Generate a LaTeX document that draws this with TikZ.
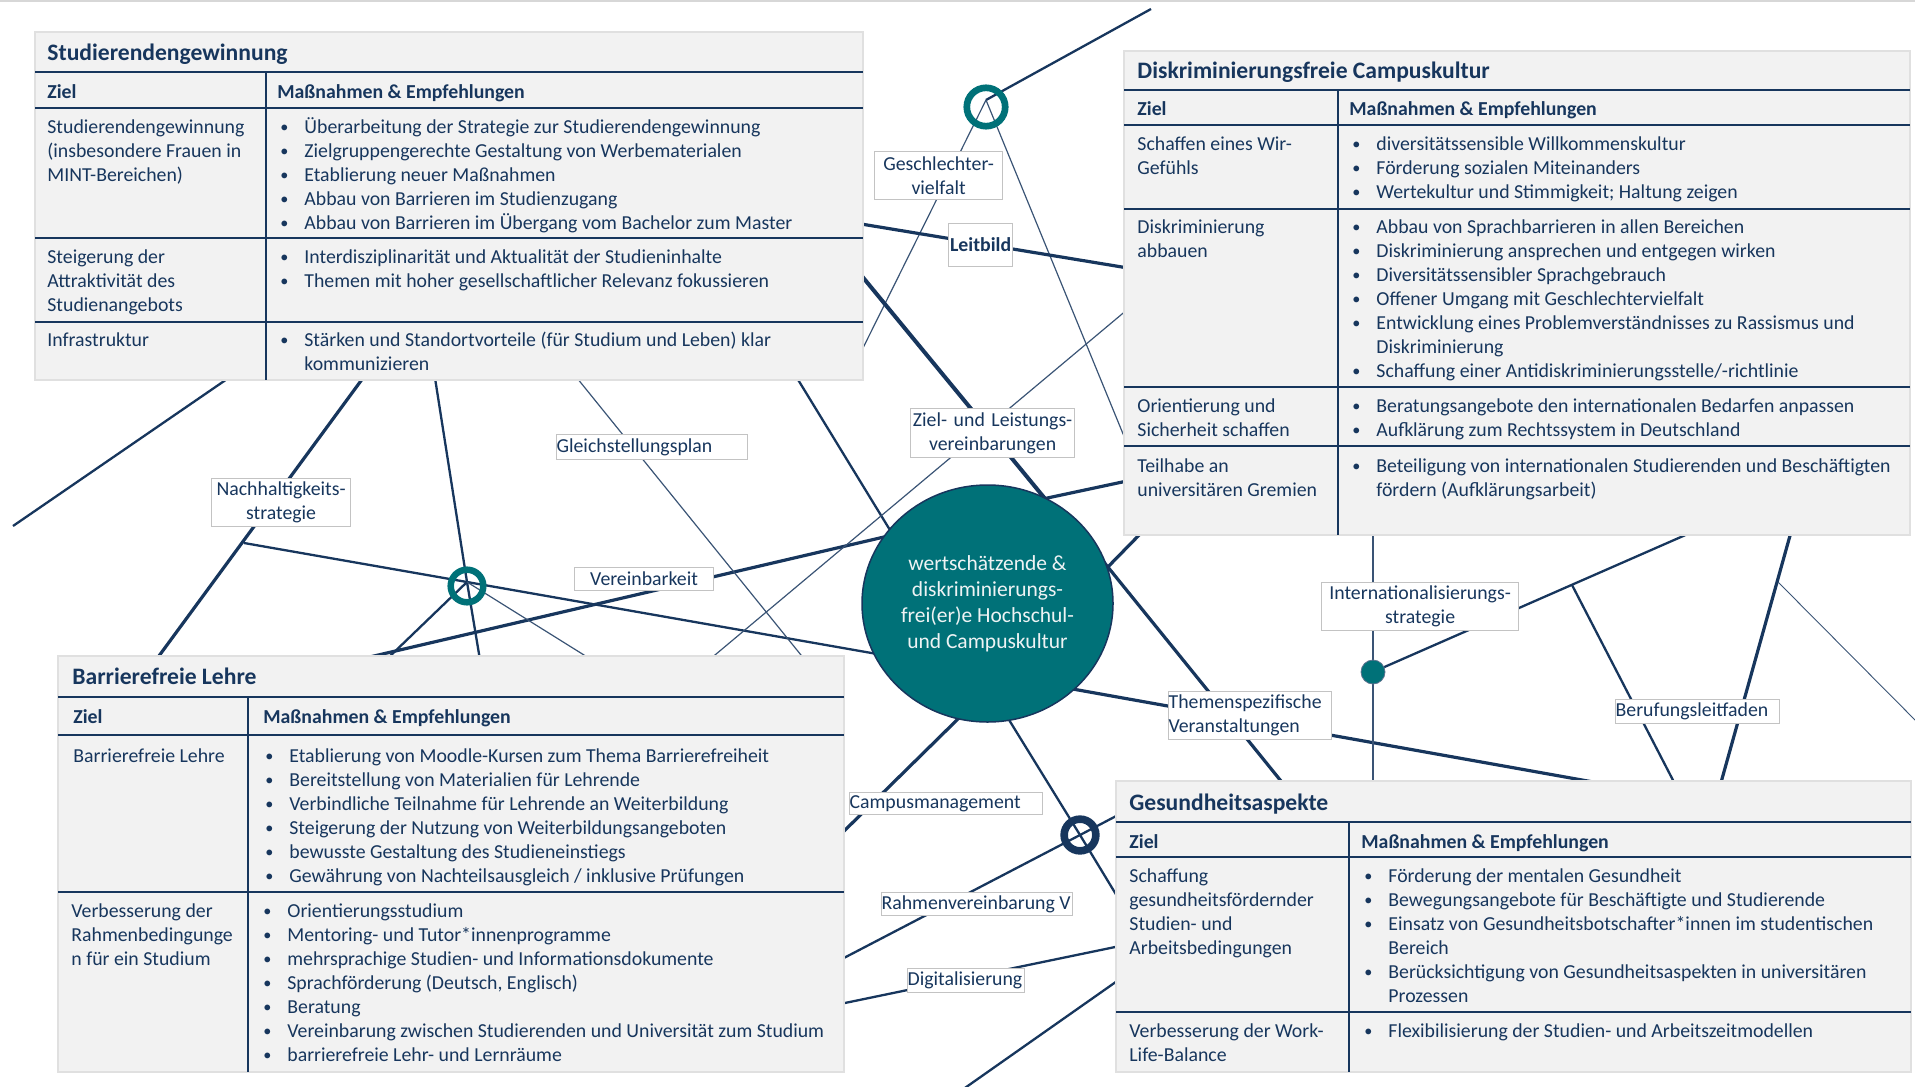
\documentclass[tikz,border=0pt]{standalone}
\usepackage{fontspec}
\usepackage{graphicx}
\setmainfont{Carlito}
\usetikzlibrary{shapes.geometric}
\definecolor{navy}{RGB}{23,54,93}
\definecolor{hubteal}{RGB}{0,113,120}
\definecolor{panelbg}{RGB}{242,242,242}
\definecolor{panelrim}{RGB}{224,224,224}
\definecolor{lblrim}{RGB}{195,195,195}
\definecolor{hubtext}{RGB}{238,243,244}
\definecolor{toprule}{RGB}{215,215,215}
\newcommand\bodyf{\fontsize{9.9pt}{12pt}\selectfont}
\newcommand\titlef{\fontsize{11.8pt}{14pt}\selectfont\bfseries}
\newcommand\hubf{\fontsize{10.75pt}{13pt}\selectfont}
\newcommand\bi{\makebox[12pt][l]{\raisebox{0.5pt}{\scalebox{0.82}{\textbullet}}}}
\newcommand\bc{\hspace*{12pt}}
\tikzset{
  lnthin/.style={draw=navy!85, line width=0.6pt},
  lnmed/.style={draw=navy, line width=1.15pt},
  lnthick/.style={draw=navy, line width=1.6pt},
  lnvthick/.style={draw=navy, line width=2pt},
  panel/.style={fill=panelbg, draw=panelrim, line width=0.8pt},
  rowrule/.style={draw=navy, line width=1.1pt},
  colrule/.style={draw=navy, line width=0.8pt},
  cell/.style={inner sep=0pt, anchor=base west, font=\bodyf, text=navy},
  ttl/.style={inner sep=0pt, anchor=base west, font=\titlef, text=navy},
  hdr/.style={inner sep=0pt, anchor=base west, font=\bodyf\bfseries, text=navy},
  lbl/.style={draw=lblrim, line width=0.6pt, fill=white, inner sep=0pt, font=\bodyf, text=navy, anchor=north west},
  ringnode/.style={circle, draw=hubteal, line width=3.3pt, inner sep=0pt},
}
\begin{document}
\begin{tikzpicture}[x=0.5pt,y=-0.5pt]
\useasboundingbox (0,0) rectangle (1915,1086);
\draw[draw=toprule, line width=1pt] (0,1) -- (1915,1);

% ---------- connector coordinates ----------
\coordinate (r1c) at (986,100);
\coordinate (r2c) at (467,582);
\coordinate (r3c) at (1080,835);
\coordinate (dotc) at (1373,672);
\coordinate (e1) at (1151,9);
\coordinate (e2) at (860,354);
\coordinate (e3) at (1128,446);
\coordinate (e4a) at (855,223);
\coordinate (e4b) at (1128,268);
\coordinate (e5a) at (861,275);
\coordinate (e5b) at (1051,506);
\coordinate (e6a) at (1127,481);
\coordinate (e6b) at (1038,500);
\coordinate (e7a) at (1145,529);
\coordinate (e7b) at (1100,575);
\coordinate (e8a) at (1103,561);
\coordinate (e8b) at (1285,786);
\coordinate (e9a) at (1067,688);
\coordinate (e9b) at (1610,785);
\coordinate (e10a) at (963,714);
\coordinate (e10b) at (838,837);
\coordinate (e11a) at (1006,715);
\coordinate (e11b) at (1120,901);
\coordinate (e12a) at (244,543);
\coordinate (e12b) at (880,654.5);
\coordinate (e13a) at (368,657.4);
\coordinate (e13b) at (890,535.6);
\coordinate (e14a) at (797,378);
\coordinate (e14b) at (893,535);
\coordinate (e15a) at (1128,309);
\coordinate (e15b) at (709,660);
\coordinate (e16a) at (1373,530);
\coordinate (e16b) at (1373,786);
\coordinate (e17a) at (1690,533);
\coordinate (e18a) at (1572,585);
\coordinate (e18b) at (1676,786);
\coordinate (e19a) at (1791,532);
\coordinate (e19b) at (1720,786);
\coordinate (e20a) at (1778,582);
\coordinate (e20b) at (1920,725);
\coordinate (e21a) at (13,526);
\coordinate (e21b) at (230,377);
\coordinate (e22a) at (363,378);
\coordinate (e22b) at (156,660);
\coordinate (e23a) at (435,378);
\coordinate (e23b) at (480,660);
\coordinate (e24) at (386,660);
\coordinate (e25) at (592,660);
\coordinate (e26a) at (577,378);
\coordinate (e26b) at (805,660);
\coordinate (e27a) at (1120,814);
\coordinate (e27b) at (840,960);
\coordinate (e28a) at (1120,946);
\coordinate (e28b) at (840,1004);
\coordinate (e29a) at (1120,979);
\coordinate (e29b) at (962,1090);

% ---------- connectors ----------
\draw[lnmed] (r1c) -- (e1);
\draw[lnthin] (r1c) -- (e2);
\draw[lnthin] (r1c) -- (e3);
\draw[lnthick] (e4a) -- (e4b);
\draw[lnvthick] (e5a) -- (e5b);
\draw[lnthick] (e6a) -- (e6b);
\draw[lnthick] (e7a) -- (e7b);
\draw[lnthick] (e8a) -- (e8b);
\draw[lnthick] (e9a) -- (e9b);
\draw[lnthick] (e10a) -- (e10b);
\draw[lnmed] (e11a) -- (r3c) -- (e11b);
\draw[lnmed] (e12a) -- (r2c) -- (e12b);
\draw[lnthick] (e13a) -- (e13b);
\draw[lnmed] (e14a) -- (e14b);
\draw[lnthin] (e15a) -- (e15b);
\draw[lnthin] (e16a) -- (dotc) -- (e16b);
\draw[lnmed] (e17a) -- (dotc);
\draw[lnmed] (e18a) -- (e18b);
\draw[lnthick] (e19a) -- (e19b);
\draw[lnthin, line width=0.45pt] (e20a) -- (e20b);
\draw[lnmed] (e21a) -- (e21b);
\draw[lnthick] (e22a) -- (e22b);
\draw[lnmed] (e23a) -- (r2c) -- (e23b);
\draw[lnmed] (r2c) -- (e24);
\draw[lnthin] (r2c) -- (e25);
\draw[lnthin] (e26a) -- (e26b);
\draw[lnmed] (e27a) -- (r3c) -- (e27b);
\draw[lnmed] (e28a) -- (e28b);
\draw[lnmed] (e29a) -- (e29b);

% ---------- panel 1 ----------
\draw[panel] (35,32) rectangle (863,380);
\draw[rowrule] (35,72) -- (863,72);
\draw[rowrule] (35,108) -- (863,108);
\draw[rowrule] (35,238) -- (863,238);
\draw[rowrule] (35,322) -- (863,322);
\draw[colrule] (266,72) -- (266,380);
\node[ttl] (p1t) at (47,60.3) {Studierendengewinnung};
\node[hdr] (p1z) at (47,98) {Ziel};
\node[hdr] (p1m) at (277,98) {Maßnahmen \& Empfehlungen};
\node[cell] (p1a) at (47,133.5) {\begin{tabular}[t]{@{}l@{}}Studierendengewinnung\\ (insbesondere Frauen in\\ MINT-Bereichen)\end{tabular}};
\node[cell] (p1b) at (280,133.5) {\begin{tabular}[t]{@{}l@{}}\bi Überarbeitung der Strategie zur Studierendengewinnung\\ \bi Zielgruppengerechte Gestaltung von Werbematerialen\\ \bi Etablierung neuer Maßnahmen\\ \bi Abbau von Barrieren im Studienzugang\\ \bi Abbau von Barrieren im Übergang vom Bachelor zum Master\end{tabular}};
\node[cell] (p1c) at (47,263.5) {\begin{tabular}[t]{@{}l@{}}Steigerung der\\ Attraktivität des\\ Studienangebots\end{tabular}};
\node[cell] (p1d) at (280,263.5) {\begin{tabular}[t]{@{}l@{}}\bi Interdisziplinarität und Aktualität der Studieninhalte\\ \bi Themen mit hoher gesellschaftlicher Relevanz fokussieren\end{tabular}};
\node[cell] (p1e) at (47,346.5) {Infrastruktur};
\node[cell] (p1f) at (280,346.5) {\begin{tabular}[t]{@{}l@{}}\bi Stärken und Standortvorteile (für Studium und Leben) klar\\ \bc kommunizieren\end{tabular}};

% ---------- panel 2 ----------
\draw[panel] (1124,51) rectangle (1910,535);
\draw[rowrule] (1124,90) -- (1910,90);
\draw[rowrule] (1124,125) -- (1910,125);
\draw[rowrule] (1124,209) -- (1910,209);
\draw[rowrule] (1124,387) -- (1910,387);
\draw[rowrule] (1124,446) -- (1910,446);
\draw[colrule] (1338,90) -- (1338,535);
\node[ttl] (p2t) at (1137,79) {Diskriminierungsfreie Campuskultur};
\node[hdr] (p2z) at (1137,115.5) {Ziel};
\node[hdr] (p2m) at (1349,115.5) {Maßnahmen \& Empfehlungen};
\node[cell] (p2a) at (1137,150.5) {\begin{tabular}[t]{@{}l@{}}Schaffen eines Wir-\\ Gefühls\end{tabular}};
\node[cell] (p2b) at (1352,150.5) {\begin{tabular}[t]{@{}l@{}}\bi diversitätssensible Willkommenskultur\\ \bi Förderung sozialen Miteinanders\\ \bi Wertekultur und Stimmigkeit; Haltung zeigen\end{tabular}};
\node[cell] (p2c) at (1137,233.5) {\begin{tabular}[t]{@{}l@{}}Diskriminierung\\ abbauen\end{tabular}};
\node[cell] (p2d) at (1352,233.5) {\begin{tabular}[t]{@{}l@{}}\bi Abbau von Sprachbarrieren in allen Bereichen\\ \bi Diskriminierung ansprechen und entgegen wirken\\ \bi Diversitätssensibler Sprachgebrauch\\ \bi Offener Umgang mit Geschlechtervielfalt\\ \bi Entwicklung eines Problemverständnisses zu Rassismus und\\ \bc Diskriminierung\\ \bi Schaffung einer Antidiskriminierungsstelle/-richtlinie\end{tabular}};
\node[cell] (p2e) at (1137,412.5) {\begin{tabular}[t]{@{}l@{}}Orientierung und\\ Sicherheit schaffen\end{tabular}};
\node[cell] (p2f) at (1352,412.5) {\begin{tabular}[t]{@{}l@{}}\bi Beratungsangebote den internationalen Bedarfen anpassen\\ \bi Aufklärung zum Rechtssystem in Deutschland\end{tabular}};
\node[cell] (p2g) at (1137,472.5) {\begin{tabular}[t]{@{}l@{}}Teilhabe an\\ universitären Gremien\end{tabular}};
\node[cell] (p2h) at (1352,472.5) {\begin{tabular}[t]{@{}l@{}}\bi Beteiligung von internationalen Studierenden und Beschäftigten\\ \bc fördern (Aufklärungsarbeit)\end{tabular}};

% ---------- panel 3 ----------
\draw[panel] (58,656) rectangle (844,1072);
\draw[rowrule] (58,697) -- (844,697);
\draw[rowrule] (58,735) -- (844,735);
\draw[rowrule] (58,892) -- (844,892);
\draw[colrule] (248,697) -- (248,1072);
\node[ttl] (p3t) at (72,684) {Barrierefreie Lehre};
\node[hdr] (p3z) at (73,723.5) {Ziel};
\node[hdr] (p3m) at (263,723.5) {Maßnahmen \& Empfehlungen};
\node[cell] (p3a) at (73,762.5) {Barrierefreie Lehre};
\node[cell] (p3b) at (265,762.5) {\begin{tabular}[t]{@{}l@{}}\bi Etablierung von Moodle-Kursen zum Thema Barrierefreiheit\\ \bi Bereitstellung von Materialien für Lehrende\\ \bi Verbindliche Teilnahme für Lehrende an Weiterbildung\\ \bi Steigerung der Nutzung von Weiterbildungsangeboten\\ \bi bewusste Gestaltung des Studieneinstiegs\\ \bi Gewährung von Nachteilsausgleich / inklusive Prüfungen\end{tabular}};
\node[cell] (p3c) at (71,917.5) {\begin{tabular}[t]{@{}l@{}}Verbesserung der\\ Rahmenbedingunge\\ n für ein Studium\end{tabular}};
\node[cell] (p3d) at (263,917.5) {\begin{tabular}[t]{@{}l@{}}\bi Orientierungsstudium\\ \bi Mentoring- und Tutor*innenprogramme\\ \bi mehrsprachige Studien- und Informationsdokumente\\ \bi Sprachförderung (Deutsch, Englisch)\\ \bi Beratung\\ \bi Vereinbarung zwischen Studierenden und Universität zum Studium\\ \bi barrierefreie Lehr- und Lernräume\end{tabular}};

% ---------- panel 4 ----------
\draw[panel] (1116,781) rectangle (1911,1072);
\draw[rowrule] (1116,822) -- (1911,822);
\draw[rowrule] (1116,857) -- (1911,857);
\draw[rowrule] (1116,1012) -- (1911,1012);
\draw[colrule] (1349,822) -- (1349,1072);
\node[ttl] (p4t) at (1129,810) {Gesundheitsaspekte};
\node[hdr] (p4z) at (1129,848.5) {Ziel};
\node[hdr] (p4m) at (1361,848.5) {Maßnahmen \& Empfehlungen};
\node[cell] (p4a) at (1129,882.5) {\begin{tabular}[t]{@{}l@{}}Schaffung\\ gesundheitsfördernder\\ Studien- und\\ Arbeitsbedingungen\end{tabular}};
\node[cell] (p4b) at (1364,882.5) {\begin{tabular}[t]{@{}l@{}}\bi Förderung der mentalen Gesundheit\\ \bi Bewegungsangebote für Beschäftigte und Studierende\\ \bi Einsatz von Gesundheitsbotschafter*innen im studentischen\\ \bc Bereich\\ \bi Berücksichtigung von Gesundheitsaspekten in universitären\\ \bc Prozessen\end{tabular}};
\node[cell] (p4c) at (1129,1037.5) {\begin{tabular}[t]{@{}l@{}}Verbesserung der Work-\\ Life-Balance\end{tabular}};
\node[cell] (p4d) at (1364,1037.5) {\begin{tabular}[t]{@{}l@{}}\bi Flexibilisierung der Studien- und Arbeitszeitmodellen\end{tabular}};

% ---------- hub, rings, dot ----------
\node[ellipse, fill=hubteal, draw=navy, line width=0.75pt, minimum width=125.5pt, minimum height=118.5pt, inner sep=0pt, text=hubtext, font=\hubf, align=center] (hub) at (987.5,603.5) {wertschätzende \&\\diskriminierungs-\\frei(er)e Hochschul-\\und Campuskultur};
\node[ringnode, minimum size=19.2pt, line width=3.35pt] (ring1) at (986,107) {};
\node[ringnode, minimum size=16.3pt, line width=3.25pt] (ring2) at (467,586) {};
\node[ringnode, draw=navy, minimum size=15.85pt, line width=3.8pt] (ring3) at (1080,835) {};
\node[circle, fill=hubteal, draw=navy!70, line width=0.4pt, minimum size=12pt, inner sep=0pt] (dot) at (dotc) {};

% ---------- labels ----------
\node[lbl, minimum width=64pt, minimum height=24pt, text width=64pt, align=center] (geschl) at (874,151) {Geschlechter-\\vielfalt};
\node[lbl, minimum width=32pt, minimum height=21.5pt, font=\bodyf\bfseries] (leitbild) at (948,223) {\makebox[32pt][c]{Leitbild}};
\node[lbl, minimum width=82pt, minimum height=24.5pt, text width=82pt, align=center] (zielleist) at (910,408) {Ziel- und Leistungs-\\vereinbarungen};
\node[lbl, minimum height=12.5pt] (gleich) at (556,434) {\makebox[95.5pt][l]{Gleichstellungsplan}};
\node[lbl, minimum width=69.5pt, minimum height=24pt, text width=69.5pt, align=center] (nachh) at (211,478) {Nachhaltigkeits-\\strategie};
\node[lbl, minimum height=11.5pt] (verein) at (574,567) {\makebox[69.5pt][c]{Vereinbarkeit}};
\node[lbl, minimum width=98.5pt, minimum height=24pt, text width=98.5pt, align=center] (intl) at (1321,582) {Internationalisierungs-\\strategie};
\node[lbl, minimum width=81.5pt, minimum height=24pt, text width=81.5pt, align=left] (themen) at (1168,691) {Themenspezifische\\Veranstaltungen};
\node[lbl, minimum height=12pt] (beruf) at (1615,699) {\makebox[82pt][l]{Berufungsleitfaden}};
\node[lbl, minimum height=11pt] (campus) at (849,792) {\makebox[96.5pt][l]{Campusmanagement}};
\node[lbl, minimum height=11.5pt] (rahmen) at (881,892) {\makebox[95.5pt][l]{Rahmenvereinbarung V}};
\node[lbl, minimum height=12pt] (digital) at (907,968) {\makebox[58.5pt][l]{Digitalisierung}};
\end{tikzpicture}
\end{document}
